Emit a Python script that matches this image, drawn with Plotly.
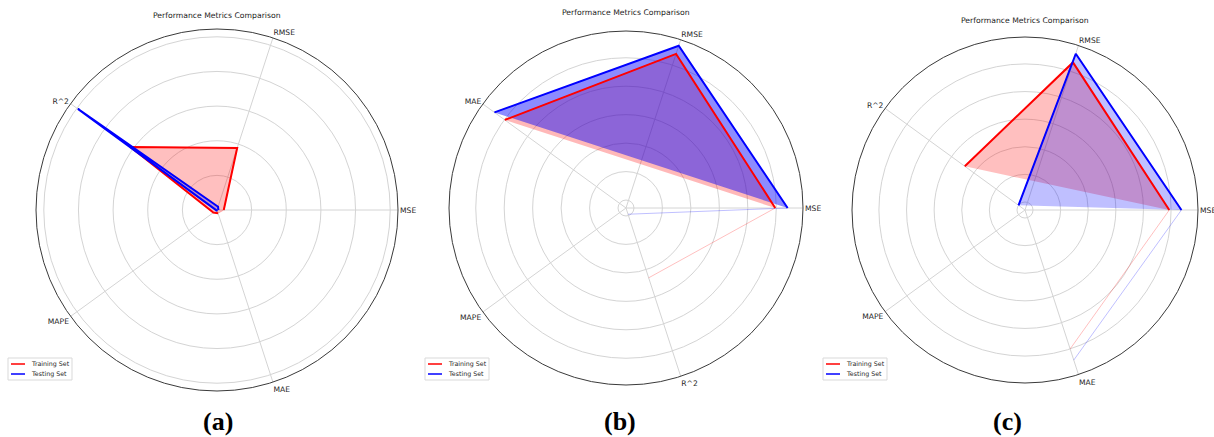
import plotly.graph_objects as go

# ---------------- data ----------------
categories_a = ["MSE", "RMSE", "R^2", "MAPE", "MAE"]
categories_b = ["MSE", "RMSE", "MAE", "MAPE", "R^2"]
categories_c = ["MSE", "RMSE", "R^2", "MAPE", "MAE"]

train_a = [0.039, 0.377, 0.618, 0.026, 0.020]
test_a = [0.008, 0.020, 0.993, 0.004, 0.006]

train_b = [0.993, 1.083, 0.997, None, 0.460]
test_b = [1.080, 1.143, 1.087, None, -0.010]

train_c = [0.987, 1.066, 0.481, None, 1.000]
test_c = [1.075, 1.132, 0.000, None, 1.085]

series_names = ["Training Set", "Testing Set"]
panel_labels = ["(a)", "(b)", "(c)"]
title_text = "Performance Metrics Comparison"

# ---------------- layout / style ----------------
W, H = 1214, 437
panels = [
    dict(cats=categories_a, train=train_a, test=test_a, cx=217, cy=210, rad=181,
         rng=[0, 1.045], ticks=[0.2, 0.4, 0.6, 0.8, 1.0],
         fill_alpha=(0.25, 0.25), title_y=16, legend_x=8, label_x=218),
    dict(cats=categories_b, train=train_b, test=test_b, cx=626, cy=208, rad=177,
         rng=[-0.056, 1.188], ticks=[0, 0.2, 0.4, 0.6, 0.8, 1.0],
         fill_alpha=(0.28, 0.45), title_y=12.5, legend_x=425, label_x=620),
    dict(cats=categories_c, train=train_c, test=test_c, cx=1025, cy=210, rad=173,
         rng=[-0.058, 1.195], ticks=[0, 0.2, 0.4, 0.6, 0.8, 1.0],
         fill_alpha=(0.25, 0.25), title_y=21, legend_x=823, label_x=1007),
]
colors = ["255,0,0", "0,0,255"]
FONT = "DejaVu Sans"
LEG_TOP, LEG_H, LEG_W = 358, 22, 64

fig = go.Figure()
layout_extra = {}
annotations = []
shapes = []


def px(x):
    return x / W


def py(y):
    return 1 - y / H


for i, p in enumerate(panels):
    pid = "polar" if i == 0 else f"polar{i+1}"
    cats = p["cats"]
    for s, (name, vals) in enumerate(zip(series_names, [p["train"], p["test"]])):
        fig.add_trace(go.Scatterpolar(
            r=vals + [vals[0]], theta=cats + [cats[0]],
            mode="lines", fill="toself",
            fillcolor=f"rgba({colors[s]},{p['fill_alpha'][s]})",
            line=dict(color=f"rgba({colors[s]},0.25)", width=1),
            subplot=pid, showlegend=False, hoverinfo="skip",
        ))
    for s, (name, vals) in enumerate(zip(series_names, [p["train"], p["test"]])):
        fig.add_trace(go.Scatterpolar(
            r=vals, theta=cats, mode="lines", name=name,
            line=dict(color=f"rgb({colors[s]})", width=2),
            subplot=pid, showlegend=False,
        ))
    layout_extra[pid] = dict(
        domain=dict(x=[px(p["cx"] - p["rad"]), px(p["cx"] + p["rad"])],
                    y=[py(p["cy"] + p["rad"]), py(p["cy"] - p["rad"])]),
        bgcolor="white",
        angularaxis=dict(
            type="category", categoryarray=cats, direction="counterclockwise",
            rotation=0, showline=True, linecolor="#3a3a3a", linewidth=1,
            gridcolor="#d4d4d4", gridwidth=1, ticks="",
            tickfont=dict(family=FONT, size=7.6, color="#262626"),
        ),
        radialaxis=dict(
            range=p["rng"], tickvals=p["ticks"], showticklabels=False,
            showline=False, ticks="", gridcolor="#d4d4d4", gridwidth=1,
        ),
    )
    annotations.append(dict(
        text=title_text, x=px(p["cx"]), y=py(p["title_y"]),
        xref="paper", yref="paper", xanchor="center", yanchor="middle",
        showarrow=False, font=dict(family=FONT, size=7.7, color="#1a1a1a"),
    ))
    annotations.append(dict(
        text=f"<b>{panel_labels[i]}</b>", x=px(p["label_x"]), y=py(421),
        xref="paper", yref="paper", xanchor="center", yanchor="middle",
        showarrow=False, font=dict(family="Liberation Serif", size=26, color="black"),
    ))
    # legend box (matplotlib-style, lower left of each panel)
    lx = p["legend_x"]
    shapes.append(dict(type="rect", xref="paper", yref="paper",
                       x0=px(lx), x1=px(lx + LEG_W), y0=py(LEG_TOP + LEG_H), y1=py(LEG_TOP),
                       line=dict(color="#d9d9d9", width=1), fillcolor="white", layer="above"))
    for s, name in enumerate(series_names):
        yy = LEG_TOP + 6 + s * 10
        shapes.append(dict(type="line", xref="paper", yref="paper",
                           x0=px(lx + 3), x1=px(lx + 17), y0=py(yy), y1=py(yy),
                           line=dict(color=f"rgb({colors[s]})", width=1.5), layer="above"))
        annotations.append(dict(
            text=name, x=px(lx + 21), y=py(yy), xref="paper", yref="paper",
            xanchor="left", yanchor="middle", showarrow=False,
            font=dict(family=FONT, size=6.3, color="#262626"),
        ))

fig.update_layout(
    width=W, height=H, autosize=False,
    margin=dict(l=0, r=0, t=0, b=0),
    paper_bgcolor="white", plot_bgcolor="white",
    showlegend=False,
    annotations=annotations, shapes=shapes,
    **layout_extra,
)

fig.write_html(
    "out.html",
    config={"displayModeBar": False},
    post_script="document.body.style.margin='0';document.body.style.overflow='hidden';",
)
